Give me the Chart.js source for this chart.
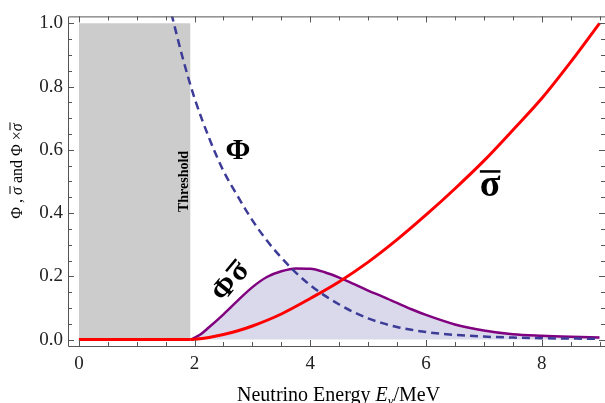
<!DOCTYPE html>
<html><head><meta charset="utf-8">
<script src="https://cdn.jsdelivr.net/npm/chart.js@4.4.0/dist/chart.umd.min.js"></script>
<style>html,body{margin:0;padding:0;background:#fff;overflow:hidden;}</style>
</head><body>
<canvas id="c" width="605" height="403"></canvas>
<script>
// ---- data ----
const shadeX = [0, 1.93];
const shadeY = [1, 1];
const phiX = [1.6, 1.8, 2.0, 2.25, 2.5, 2.75, 3.0, 3.25, 3.5, 3.75, 4.0, 4.25, 4.5, 4.75, 5.0, 5.25, 5.5, 5.75, 6.0, 6.5, 7.0, 7.5, 8.0, 8.5, 9.0];
const phiY = [1.03, 0.887, 0.763, 0.638, 0.533, 0.452, 0.377, 0.313, 0.259, 0.212, 0.172, 0.139, 0.111, 0.087, 0.067, 0.052, 0.040, 0.031, 0.024, 0.015, 0.0096, 0.0064, 0.0045, 0.0033, 0.0026];
const sigmaBelowX = [0, 1.93];
const sigmaBelowY = [0, 0];
const sigmaX = [1.93, 2.0, 2.25, 2.5, 2.75, 3.0, 3.5, 4.0, 4.5, 5.0, 5.5, 6.0, 6.5, 7.0, 7.5, 8.0, 8.5, 9.0];
const sigmaY = [0, 0.001, 0.007, 0.016, 0.028, 0.043, 0.081, 0.13, 0.183, 0.245, 0.316, 0.394, 0.477, 0.565, 0.662, 0.762, 0.877, 1.0];
const prodX = [1.93, 2.1, 2.25, 2.5, 2.75, 3.0, 3.25, 3.5, 3.75, 4.0, 4.25, 4.5, 4.75, 5.0, 5.25, 5.5, 5.75, 6.0, 6.5, 7.0, 7.5, 8.0, 8.5, 9.0];
const prodY = [0, 0.016, 0.039, 0.08, 0.124, 0.166, 0.198, 0.216, 0.225, 0.224, 0.213, 0.196, 0.176, 0.155, 0.136, 0.116, 0.096, 0.078, 0.048, 0.029, 0.017, 0.012, 0.009, 0.007];
const xTickLabels = [0, 2, 4, 6, 8];
const yTickLabels = [0, 0.2, 0.4, 0.6, 0.8, 1.0];

const pts = (xs, ys) => xs.map((x, i) => ({x, y: ys[i]}));
const SERIF = "'Liberation Serif', 'Times New Roman', serif";

function measureParts(ctx, parts) {
  let w = 0;
  for (const p of parts) { ctx.font = p.font; w += ctx.measureText(p.t).width + (p.dx || 0); }
  return w;
}
function drawParts(ctx, parts, x, y) {
  let cx = x;
  for (const p of parts) {
    ctx.font = p.font;
    const w = ctx.measureText(p.t).width;
    ctx.fillText(p.t, cx, y + (p.dy || 0));
    if (p.over) {
      ctx.save();
      ctx.lineWidth = p.overW || 1;
      ctx.beginPath();
      ctx.moveTo(cx + (p.overL || 0), y + p.over);
      ctx.lineTo(cx + w + (p.overR || 0), y + p.over);
      ctx.stroke();
      ctx.restore();
    }
    cx += w + (p.dx || 0);
  }
}

const decorPlugin = {
  id: 'decor',
  afterDraw(chart) {
    const {ctx, chartArea: a, scales: {x, y}} = chart;
    ctx.save();
    ctx.strokeStyle = '#555';
    ctx.lineWidth = 1;
    ctx.beginPath();
    ctx.moveTo(a.left + 0.5, a.bottom + 0.5);
    ctx.lineTo(a.left + 0.5, a.top + 0.5);
    ctx.lineTo(a.right + 0.5, a.top + 0.5);
    ctx.lineTo(a.right + 0.5, a.bottom + 0.5);
    ctx.lineTo(a.left + 0.5, a.bottom + 0.5);
    ctx.stroke();
    ctx.beginPath();
    for (let k = 0; k <= 18; k++) {
      const v = k * 0.5;
      const px = Math.round(x.getPixelForValue(v)) + 0.5;
      const len = (k % 4 === 0) ? 6 : 4;
      ctx.moveTo(px, a.bottom); ctx.lineTo(px, a.bottom - len);
      ctx.moveTo(px, a.top); ctx.lineTo(px, a.top + len);
    }
    for (let k = 0; k <= 20; k++) {
      const v = k * 0.05;
      const py = Math.round(y.getPixelForValue(v)) + 0.5;
      const len = (k % 4 === 0) ? 6 : 4;
      ctx.moveTo(a.left, py); ctx.lineTo(a.left + len, py);
      ctx.moveTo(a.right, py); ctx.lineTo(a.right - len, py);
    }
    ctx.stroke();

    ctx.fillStyle = '#000';
    ctx.strokeStyle = '#000';
    ctx.textBaseline = 'alphabetic';
    ctx.textAlign = 'left';

    // y-axis title (rotated)
    const fN = `16px ${SERIF}`, fI = `italic 16px ${SERIF}`;
    const yParts = [
      {t: 'Φ , ', font: fN},
      {t: 'σ', font: fI, over: -12, overL: 1, overR: 1},
      {t: ' and Φ ×', font: fN},
      {t: 'σ', font: fI, over: -12, overL: 1, overR: 1}
    ];
    ctx.save();
    ctx.translate(22, 171);
    ctx.rotate(-Math.PI / 2);
    const yw = measureParts(ctx, yParts);
    drawParts(ctx, yParts, -yw / 2, 0);
    ctx.restore();

    // x-axis title
    const xf = `20px ${SERIF}`, xfi = `italic 20px ${SERIF}`, xfs = `italic 13px ${SERIF}`;
    const xParts = [
      {t: 'Neutrino Energy ', font: xf},
      {t: 'E', font: xfi},
      {t: 'ν', font: xfs, dy: 4},
      {t: '/MeV', font: xf}
    ];
    drawParts(ctx, xParts, 237, 401);

    // in-plot labels
    ctx.textAlign = 'center';
    ctx.textBaseline = 'middle';
    ctx.save();
    ctx.translate(x.getPixelForValue(1.82), y.getPixelForValue(0.5));
    ctx.rotate(-Math.PI / 2);
    ctx.font = `bold 14px ${SERIF}`;
    ctx.fillText('Threshold', 0, 0);
    ctx.restore();

    ctx.font = `bold 30px ${SERIF}`;
    ctx.fillText('Φ', x.getPixelForValue(2.75), y.getPixelForValue(0.597));

    ctx.font = `bold 38px ${SERIF}`;
    const sx = x.getPixelForValue(7.11), sy = y.getPixelForValue(0.485);
    ctx.fillText('σ', sx, sy);
    const sw = ctx.measureText('σ').width;
    ctx.fillRect(sx - sw / 2, sy - 16, sw, 2.5);

    ctx.save();
    ctx.translate(x.getPixelForValue(2.63), y.getPixelForValue(0.182));
    ctx.rotate(-50 * Math.PI / 180);
    ctx.font = `bold 29px ${SERIF}`;
    const w1 = ctx.measureText('Φ').width, w2 = ctx.measureText('σ').width;
    const tot = w1 + w2 + 2;
    ctx.textAlign = 'left';
    ctx.fillText('Φ', -tot / 2, 0);
    ctx.fillText('σ', -tot / 2 + w1 + 2, 0);
    ctx.fillRect(-tot / 2 + w1 + 2, -12, w2, 2.5);
    ctx.restore();

    ctx.restore();
  }
};

const lineBase = {pointRadius: 0, cubicInterpolationMode: 'monotone', fill: false};
new Chart(document.getElementById('c'), {
  type: 'line',
  data: {
    datasets: [
      {...lineBase, data: pts(sigmaX, sigmaY), borderColor: '#ff0000', borderWidth: 3, order: 1, clip: 2},
      {...lineBase, data: pts(sigmaBelowX, sigmaBelowY), borderColor: '#ff0000', borderWidth: 3, order: 1, clip: 2},
      {...lineBase, data: pts(phiX, phiY), borderColor: '#3c3c98', borderWidth: 2.5, borderDash: [8, 5], order: 2, clip: 0},
      {...lineBase, data: pts(prodX, prodY), borderColor: '#800080', borderWidth: 2.5,
       fill: 'origin', backgroundColor: '#d9d9eb', order: 3, clip: 2},
      {data: pts(shadeX, shadeY), borderWidth: 0, borderColor: 'rgba(0,0,0,0)', pointRadius: 0,
       fill: 'origin', backgroundColor: '#cccccc', order: 4, tension: 0}
    ]
  },
  options: {
    responsive: false,
    animation: false,
    devicePixelRatio: 1,
    layout: {padding: {top: 11, right: 0, left: 0, bottom: 0}},
    plugins: {legend: {display: false}, tooltip: {enabled: false}},
    scales: {
      x: {
        type: 'linear', min: -0.188, max: 9.095,
        grid: {display: false, drawTicks: false}, border: {display: false},
        ticks: {font: {family: SERIF, size: 19}, color: '#222', padding: 7, maxRotation: 0, autoSkip: false,
                callback: v => String(v)},
        afterBuildTicks: s => { s.ticks = xTickLabels.map(v => ({value: v})); },
        afterFit: s => { s.height = 57; }
      },
      y: {
        type: 'linear', min: -0.0202, max: 1.0218,
        grid: {display: false, drawTicks: false}, border: {display: false},
        ticks: {font: {family: SERIF, size: 19}, color: '#222', padding: 5, autoSkip: false,
                callback: v => Number(v).toFixed(1)},
        afterBuildTicks: s => { s.ticks = yTickLabels.map(v => ({value: v})); },
        afterFit: s => { s.width = 68; }
      }
    }
  },
  plugins: [decorPlugin]
});
</script>
</body></html>
